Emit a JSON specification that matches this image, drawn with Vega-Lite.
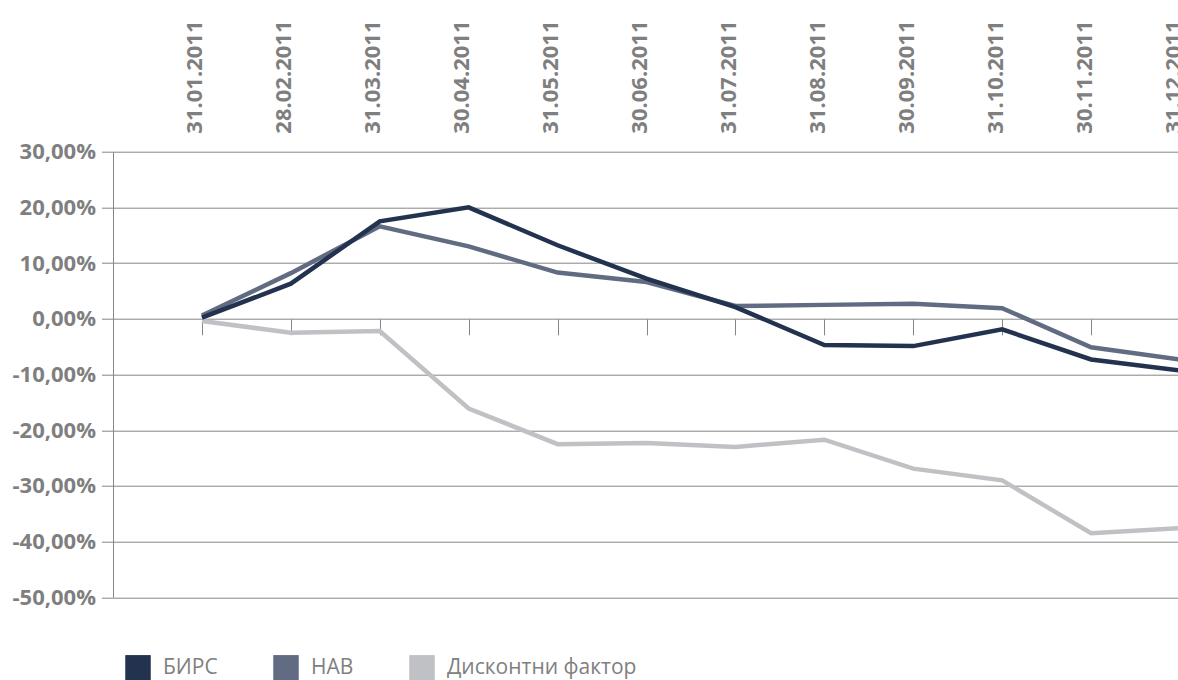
{
  "$schema": "https://vega.github.io/schema/vega-lite/v6.json",
  "width": 1067,
  "height": 445.6,
  "autosize": {"type": "none"},
  "padding": {"left": 113, "top": 151.7, "right": 0, "bottom": 82.7},
  "background": "white",
  "config": {
    "view": {"stroke": null},
    "font": "Open Sans",
    "locale": {"number": {"decimal": ",", "thousands": " ", "grouping": [3], "currency": ["", ""], "minus": "-"}}
  },
  "data": {
    "values": [
      {"date": "31.01.2011", "series": "Дисконтни фактор", "value": -0.004},
      {"date": "28.02.2011", "series": "Дисконтни фактор", "value": -0.025},
      {"date": "31.03.2011", "series": "Дисконтни фактор", "value": -0.022},
      {"date": "30.04.2011", "series": "Дисконтни фактор", "value": -0.161},
      {"date": "31.05.2011", "series": "Дисконтни фактор", "value": -0.225},
      {"date": "30.06.2011", "series": "Дисконтни фактор", "value": -0.223},
      {"date": "31.07.2011", "series": "Дисконтни фактор", "value": -0.230},
      {"date": "31.08.2011", "series": "Дисконтни фактор", "value": -0.217},
      {"date": "30.09.2011", "series": "Дисконтни фактор", "value": -0.269},
      {"date": "31.10.2011", "series": "Дисконтни фактор", "value": -0.290},
      {"date": "30.11.2011", "series": "Дисконтни фактор", "value": -0.385},
      {"date": "31.12.2011", "series": "Дисконтни фактор", "value": -0.376},
      {"date": "31.01.2011", "series": "НАВ", "value": 0.006},
      {"date": "28.02.2011", "series": "НАВ", "value": 0.082},
      {"date": "31.03.2011", "series": "НАВ", "value": 0.166},
      {"date": "30.04.2011", "series": "НАВ", "value": 0.130},
      {"date": "31.05.2011", "series": "НАВ", "value": 0.083},
      {"date": "30.06.2011", "series": "НАВ", "value": 0.066},
      {"date": "31.07.2011", "series": "НАВ", "value": 0.023},
      {"date": "31.08.2011", "series": "НАВ", "value": 0.025},
      {"date": "30.09.2011", "series": "НАВ", "value": 0.027},
      {"date": "31.10.2011", "series": "НАВ", "value": 0.019},
      {"date": "30.11.2011", "series": "НАВ", "value": -0.051},
      {"date": "31.12.2011", "series": "НАВ", "value": -0.073},
      {"date": "31.01.2011", "series": "БИРС", "value": 0.002},
      {"date": "28.02.2011", "series": "БИРС", "value": 0.063},
      {"date": "31.03.2011", "series": "БИРС", "value": 0.175},
      {"date": "30.04.2011", "series": "БИРС", "value": 0.200},
      {"date": "31.05.2011", "series": "БИРС", "value": 0.132},
      {"date": "30.06.2011", "series": "БИРС", "value": 0.072},
      {"date": "31.07.2011", "series": "БИРС", "value": 0.021},
      {"date": "31.08.2011", "series": "БИРС", "value": -0.047},
      {"date": "30.09.2011", "series": "БИРС", "value": -0.049},
      {"date": "31.10.2011", "series": "БИРС", "value": -0.019},
      {"date": "30.11.2011", "series": "БИРС", "value": -0.073},
      {"date": "31.12.2011", "series": "БИРС", "value": -0.093}
    ]
  },
  "encoding": {
    "y": {
      "field": "value",
      "type": "quantitative",
      "scale": {"domain": [-0.5, 0.3], "nice": false, "zero": false},
      "axis": {
        "orient": "left",
        "values": [-0.5, -0.4, -0.3, -0.2, -0.1, 0, 0.1, 0.2, 0.3],
        "format": ".2%",
        "title": null,
        "grid": true,
        "gridColor": "#868686",
        "gridWidth": 1,
        "domain": true,
        "domainColor": "#868686",
        "domainWidth": 1,
        "ticks": true,
        "tickColor": "#868686",
        "tickSize": 11.5,
        "labelPadding": 6,
        "labelFont": "Open Sans",
        "labelFontSize": 22,
        "labelFontWeight": "bold",
        "labelColor": "#7f7f7f"
      }
    }
  },
  "layer": [
    {
      "mark": {"type": "line", "strokeWidth": 4.5, "strokeCap": "butt", "strokeJoin": "miter"},
      "encoding": {
        "x": {
          "field": "date",
          "type": "ordinal",
          "sort": null,
          "scale": {
            "type": "point",
            "padding": 0,
            "domain": [" ", "31.01.2011", "28.02.2011", "31.03.2011", "30.04.2011", "31.05.2011", "30.06.2011", "31.07.2011", "31.08.2011", "30.09.2011", "31.10.2011", "30.11.2011", "31.12.2011"]
          },
          "axis": {
            "orient": "top",
            "title": null,
            "labelAngle": -90,
            "labelAlign": "left",
            "labelBaseline": "alphabetic",
            "ticks": false,
            "tickSize": 0,
            "domain": false,
            "grid": false,
            "labelPadding": 18.5,
            "labelFont": "Open Sans",
            "labelFontSize": 22,
            "labelFontWeight": "bold",
            "labelColor": "#7f7f7f",
            "labelOverlap": false,
            "labelBound": false
          }
        },
        "color": {
          "field": "series",
          "type": "nominal",
          "scale": {"domain": ["БИРС", "НАВ", "Дисконтни фактор"], "range": ["#22324f", "#616c82", "#c0c1c5"]},
          "legend": {
            "title": null,
            "orient": "none",
            "legendX": 12,
            "legendY": 503,
            "direction": "horizontal",
            "padding": 0,
            "symbolType": "square",
            "symbolSize": 650,
            "symbolStrokeWidth": 0,
            "labelFont": "Open Sans",
            "labelFontSize": 21,
            "labelColor": "#808080",
            "labelOffset": 12,
            "labelLimit": 400,
            "columnPadding": 55,
            "encode": {
              "symbols": {"update": {"fill": {"scale": "color", "field": "value"}, "strokeWidth": {"value": 0}, "fillOpacity": {"value": 1}}}
            }
          }
        }
      }
    },
    {
      "mark": {"type": "line", "strokeOpacity": 0},
      "encoding": {
        "x": {
          "field": "date",
          "type": "ordinal",
          "sort": null,
          "axis": {
            "orient": "bottom",
            "offset": -278.5,
            "title": null,
            "labels": false,
            "domain": false,
            "grid": false,
            "ticks": true,
            "tickSize": 16,
            "tickColor": "#868686",
            "tickWidth": 1
          }
        },
        "detail": {"field": "series"}
      }
    }
  ],
  "resolve": {"axis": {"x": "independent"}}
}
